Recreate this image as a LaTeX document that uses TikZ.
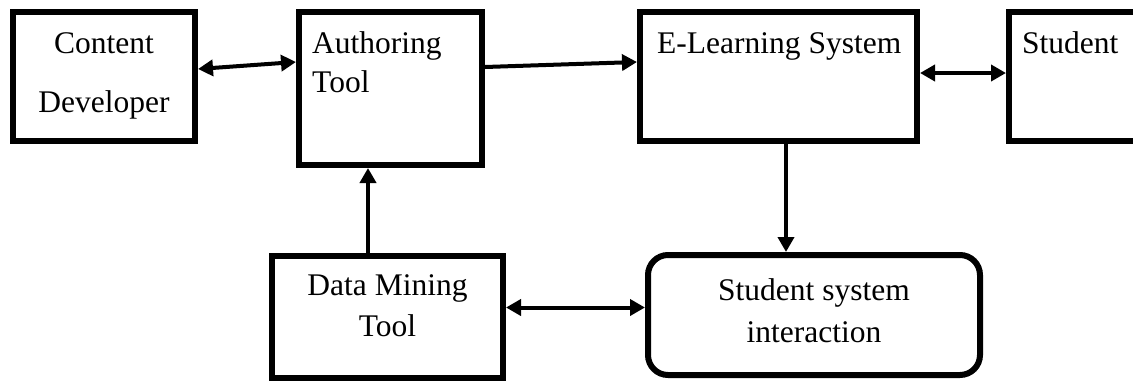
\documentclass[tikz,border=0pt]{standalone}
\usepackage{fontspec}
\setmainfont{Liberation Serif}
\usetikzlibrary{arrows.meta}

\begin{document}
\begin{tikzpicture}[x=1pt, y=-1pt,
  box/.style={draw, line width=6pt, rectangle, inner sep=0pt},
  roundbox/.style={box, rounded corners=20pt},
  lbl/.style={inner sep=0pt, font=\fontsize{31.5}{36}\selectfont},
  link/.style={line width=4pt, -{Triangle[length=15pt,width=16pt]}},
  twoway/.style={line width=4pt, {Triangle[length=15pt,width=16pt]}-{Triangle[length=15pt,width=16pt]}}]

  \fill[white] (0,0) rectangle (1133,381);
  \clip (0,0) rectangle (1133,381);

  % boxes
  \node[box, minimum width=182pt, minimum height=129pt] (dev) at (104,76.5) {};
  \node[box, minimum width=183pt, minimum height=153pt] (auth) at (390.5,88.5) {};
  \node[box, minimum width=277pt, minimum height=129pt] (els) at (778.5,76.5) {};
  \node[box, minimum width=151pt, minimum height=129pt] (stud) at (1084.5,76.5) {};
  \node[box, minimum width=231pt, minimum height=122pt] (dm) at (387.5,317) {};
  \node[roundbox, minimum width=332pt, minimum height=120pt] (ssi) at (814,315) {};

  % labels
  \node[lbl, anchor=base] (devA) at (104,53) {Content};
  \node[lbl, anchor=base] (devB) at (104,112) {Developer};
  \node[lbl, anchor=base west] (authA) at (312,53) {Authoring};
  \node[lbl, anchor=base west] (authB) at (312,92) {Tool};
  \node[lbl, anchor=base west] (elsA) at (657,53) {E-Learning System};
  \node[lbl, anchor=base west] (studA) at (1022,53) {Student};
  \node[lbl, anchor=base] (dmA) at (387.5,295) {Data Mining};
  \node[lbl, anchor=base] (dmB) at (387.5,336) {Tool};
  \node[lbl, anchor=base] (ssiA) at (814,300) {Student system};
  \node[lbl, anchor=base] (ssiB) at (814,342) {interaction};

  % connectors
  \draw[twoway] ([yshift=7.5pt]dev.east) -- ([yshift=26.5pt]auth.west);
  \draw[link] ([yshift=21.5pt]auth.east) -- ([yshift=14.5pt]els.west);
  \draw[twoway] ([yshift=3.5pt]els.east) -- ([yshift=3.5pt]stud.west);
  \draw[link] ([xshift=7.5pt]els.south) -- ([xshift=7.5pt]els.south |- ssi.north);
  \draw[link] ([xshift=-19.5pt]dm.north) -- ([xshift=-19.5pt]dm.north |- auth.south);
  \draw[twoway] ([yshift=9.5pt]dm.east) -- ([yshift=9.5pt]dm.east -| ssi.west);
\end{tikzpicture}
\end{document}
